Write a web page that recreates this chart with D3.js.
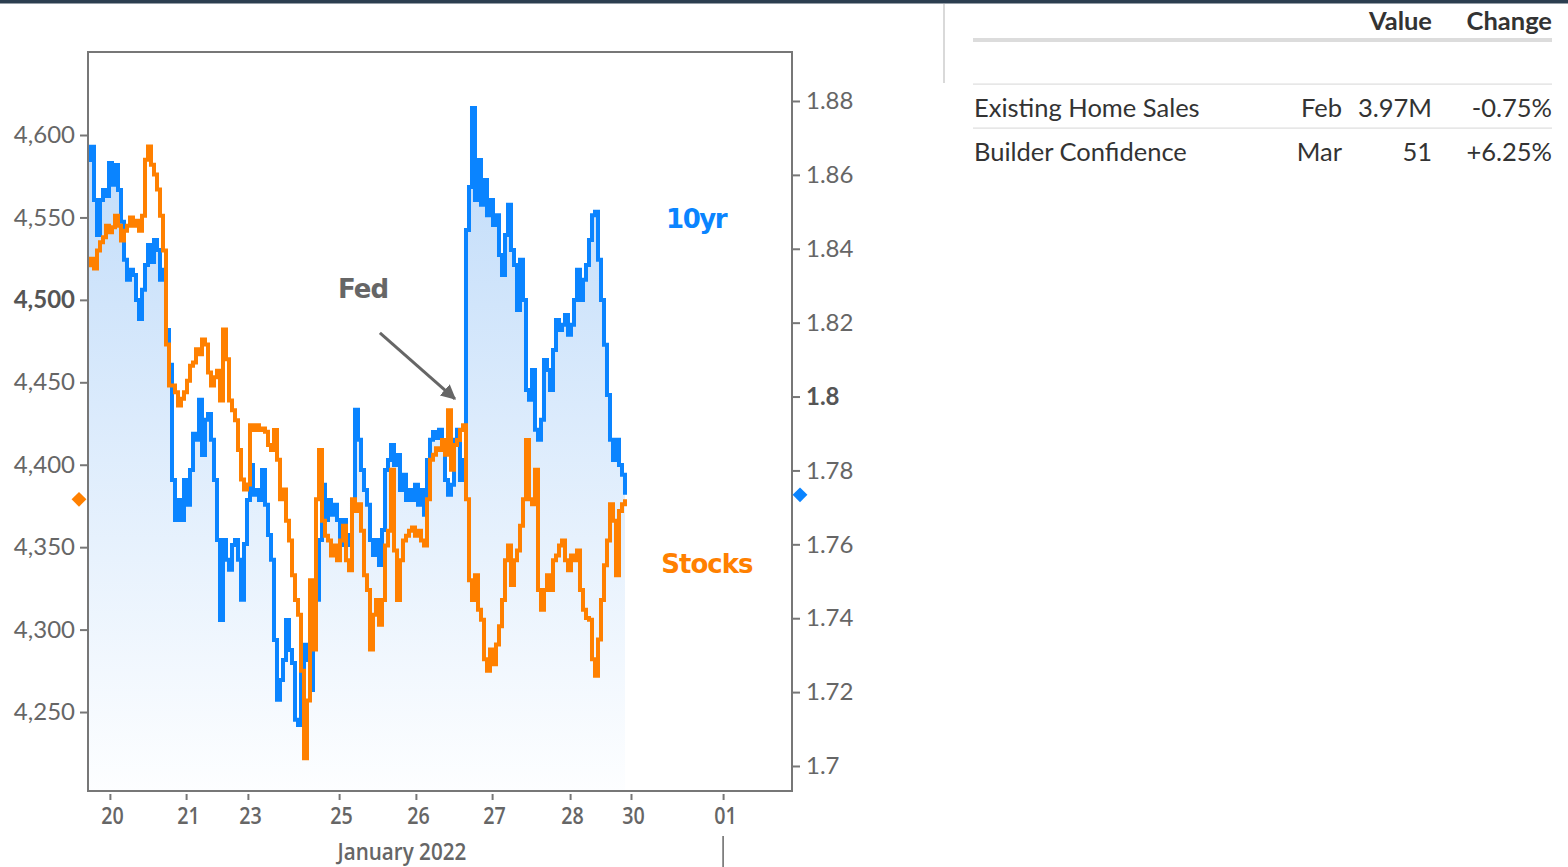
<!DOCTYPE html>
<html>
<head>
<meta charset="utf-8">
<script src="https://cdn.jsdelivr.net/npm/d3@7"></script>
<style>
  html, body { margin: 0; padding: 0; background: #fff; }
  svg { display: block; }
</style>
</head>
<body>
<svg id="chart" width="1568" height="867"></svg>
<script>
// ---------------- DATA ----------------
// Samples evenly spaced in (trading) session time; index = sample number
const stocks = [4521,4525,4519,4530,4535,4538,4545,4541,4544,4551,4545,4536,4542,4545,4550,4545,4548,4542,4551,4585,
4593,4582,4576,4567,4551,4530,4473,4448,4448,4444,4436,4440,4444,4451,4460,4462,4470,4467,4476,4473,
4456,4448,4453,4457,4439,4482,4464,4439,4433,4427,4409,4391,4385,4388,4424,4421,4424,4421,4422,4420,
4412,4409,4421,4403,4379,4385,4366,4354,4333,4318,4309,4275,4222,4257,4330,4288,4379,4409,4366,4357,
4354,4345,4351,4342,4354,4363,4342,4336,4379,4372,4376,4360,4333,4324,4288,4309,4318,4303,4318,4351,
4360,4397,4348,4318,4342,4354,4357,4360,4362,4357,4360,4354,4351,4379,4403,4406,4410,4409,4415,4406,
4433,4397,4412,4415,4421,4424,4379,4330,4318,4333,4312,4306,4282,4275,4288,4279,4291,4302,4318,4342,
4351,4327,4342,4348,4363,4379,4415,4379,4376,4397,4324,4312,4324,4333,4324,4342,4345,4351,4354,4342,
4336,4345,4342,4348,4324,4312,4307,4306,4282,4272,4294,4318,4339,4354,4376,4366,4333,4372,4376,4379];

const tenYr = [1.8640,1.8676,1.8532,1.8437,1.8532,1.8559,1.8543,1.8632,1.8573,1.8627,1.8559,1.8473,1.8370,1.8316,1.8343,1.8329,1.8261,1.8210,1.8289,1.8356,
1.8410,1.8364,1.8424,1.8397,1.8316,1.8343,1.8180,1.8086,1.7774,1.7666,1.7720,1.7666,1.7774,1.7707,1.7801,1.7899,1.7883,1.7991,1.7842,1.7937,
1.7953,1.7883,1.7774,1.7612,1.7395,1.7612,1.7558,1.7531,1.7598,1.7612,1.7558,1.7450,1.7601,1.7720,1.7815,1.7734,1.7747,1.7720,1.7801,1.7707,
1.7625,1.7558,1.7341,1.7179,1.7233,1.7287,1.7395,1.7314,1.7279,1.7125,1.7111,1.7260,1.7328,1.7287,1.7206,1.7368,1.7450,1.7612,1.7761,1.7666,
1.7720,1.7680,1.7707,1.7666,1.7598,1.7666,1.7598,1.7625,1.7720,1.7964,1.7883,1.7801,1.7747,1.7707,1.7612,1.7571,1.7612,1.7544,1.7639,1.7801,
1.7828,1.7869,1.7815,1.7842,1.7747,1.7788,1.7720,1.7747,1.7720,1.7761,1.7707,1.7747,1.7680,1.7828,1.7883,1.7904,1.7888,1.7910,1.7855,1.7774,
1.7734,1.7761,1.7883,1.7910,1.7774,1.7828,1.8451,1.8567,1.8781,1.8532,1.8640,1.8519,1.8586,1.8491,1.8532,1.8464,1.8491,1.8383,1.8329,1.8437,
1.8519,1.8397,1.8356,1.8234,1.8370,1.8261,1.8018,1.7991,1.8072,1.7910,1.7883,1.7937,1.8099,1.8072,1.8018,1.8126,1.8207,1.8180,1.8194,1.8221,
1.8167,1.8194,1.8261,1.8343,1.8261,1.8316,1.8356,1.8424,1.8491,1.8500,1.8370,1.8261,1.8140,1.8004,1.7883,1.7828,1.7883,1.7815,1.7788,1.7734];

const xTickPos    = [7.3, 32.7, 53.3, 83.7, 109.3, 134.7, 160.7, 181, 211.7];
const xTickLabels = ["20","21","23","25","26","27","28","30","01"];
const xTitle = "January 2022";
const leftTicks  = [4250, 4300, 4350, 4400, 4450, 4500, 4550, 4600];
const rightTicks = [1.70, 1.72, 1.74, 1.76, 1.78, 1.80, 1.82, 1.84, 1.86, 1.88];

const tableHeader = ["Value", "Change"];
const tableNames   = ["Existing Home Sales", "Builder Confidence"];
const tablePeriods = ["Feb", "Mar"];
const tableValues  = ["3.97M", "51"];
const tableChanges = ["-0.75%", "+6.25%"];

// ---------------- LAYOUT ----------------
const W = 1568, H = 867;
const P = { l: 88, r: 792, t: 52, b: 791 };
const BLUE = "#0a84ff", ORANGE = "#ff8000", AXIS = "#777";

const svg = d3.select("#chart");

const x  = d3.scaleLinear().domain([0, 234.67]).range([P.l, P.r]);
const yL = d3.scaleLinear().domain([4202.1, 4650.35]).range([P.b, P.t]);
const yR = d3.scaleLinear().domain([1.69323, 1.89326]).range([P.b, P.t]);

// top bar
svg.append("rect").attr("x", 0).attr("y", 0).attr("width", W).attr("height", 3.5).attr("fill", "#2c3e50");

const defs = svg.append("defs");
const grad = defs.append("linearGradient").attr("id", "fillGrad")
  .attr("gradientUnits", "userSpaceOnUse").attr("x1", 0).attr("x2", 0).attr("y1", P.t).attr("y2", P.b);
grad.append("stop").attr("offset", 0).attr("stop-color", "#bad8f9");
grad.append("stop").attr("offset", 1).attr("stop-color", "#fdfeff");
defs.append("clipPath").attr("id", "plotClip").append("rect")
  .attr("x", P.l).attr("y", P.t).attr("width", P.r - P.l).attr("height", P.b - P.t);

const plot = svg.append("g").attr("clip-path", "url(#plotClip)");

const area = d3.area().x((d, i) => x(i)).y0(P.b).y1(d => yR(d)).curve(d3.curveStepAfter);
plot.append("path").datum(tenYr).attr("d", area).attr("fill", "url(#fillGrad)");

const lineR = d3.line().x((d, i) => x(i)).y(d => yR(d)).curve(d3.curveStepAfter);
const lineL = d3.line().x((d, i) => x(i)).y(d => yL(d)).curve(d3.curveStepAfter);
plot.append("path").datum(tenYr).attr("d", lineR).attr("fill", "none")
  .attr("stroke", BLUE).attr("stroke-width", 4).attr("stroke-linejoin", "miter");
plot.append("path").datum(stocks).attr("d", lineL).attr("fill", "none")
  .attr("stroke", ORANGE).attr("stroke-width", 4).attr("stroke-linejoin", "miter");

// frame
svg.append("rect").attr("x", P.l).attr("y", P.t).attr("width", P.r - P.l).attr("height", P.b - P.t)
  .attr("fill", "none").attr("stroke", AXIS).attr("stroke-width", 2);

// axes
const tickFont = "Lato, 'DejaVu Sans', sans-serif";
const gL = svg.append("g").attr("transform", `translate(${P.l},0)`)
  .call(d3.axisLeft(yL).tickValues(leftTicks).tickSize(8).tickPadding(5).tickFormat(d3.format(",")));
const gR = svg.append("g").attr("transform", `translate(${P.r},0)`)
  .call(d3.axisRight(yR).tickValues(rightTicks).tickSize(8).tickPadding(6).tickFormat(d => String(+d.toFixed(2))));
[gL, gR].forEach(g => {
  g.select(".domain").remove();
  g.selectAll(".tick line").attr("stroke", AXIS).attr("stroke-width", 2);
  g.selectAll(".tick text").attr("font-family", tickFont).attr("font-size", 24).attr("fill", "#666");
});
gL.selectAll(".tick text").filter(d => d === 4500).attr("font-weight", "bold").attr("fill", "#555");
gR.selectAll(".tick text").filter(d => Math.abs(d - 1.8) < 1e-9).attr("font-weight", "bold").attr("fill", "#555");

const xFont = "'Open Sans', Lato, sans-serif";
const gX = svg.append("g").attr("transform", `translate(0,${P.b + 3})`)
  .call(d3.axisBottom(x).tickValues(xTickPos).tickSize(6).tickPadding(7).tickFormat((d, i) => xTickLabels[i]));
gX.select(".domain").remove();
gX.selectAll(".tick line").attr("stroke", AXIS).attr("stroke-width", 2);
gX.selectAll(".tick text").attr("font-family", xFont).attr("font-weight", 600)
  .attr("font-size", 24).attr("fill", "#666").attr("transform", "translate(2,0) scale(0.82,1)");
svg.append("g").attr("transform", `translate(${x(xTickPos[4]) - 14},860) scale(0.86,1)`)
  .append("text").attr("text-anchor", "middle")
  .attr("font-family", xFont).attr("font-weight", 600)
  .attr("font-size", 24).attr("fill", "#666").text(xTitle);
svg.append("line").attr("x1", x(xTickPos[8])).attr("x2", x(xTickPos[8])).attr("y1", 836).attr("y2", H)
  .attr("stroke", "#666").attr("stroke-width", 1.5);

// last-value diamonds
const sq = d3.symbol().type(d3.symbolSquare).size(110)();
svg.append("path").attr("d", sq)
  .attr("transform", `translate(${P.l - 9},${yL(stocks[stocks.length - 1])}) rotate(45)`).attr("fill", ORANGE);
svg.append("path").attr("d", sq)
  .attr("transform", `translate(${P.r + 8},${yR(tenYr[tenYr.length - 1])}) rotate(45)`).attr("fill", BLUE);

// labels
const labFont = "'DejaVu Sans', Verdana, sans-serif";
svg.append("text").attr("x", x(202.7)).attr("y", yR(1.8481)).attr("dy", "0.36em").attr("text-anchor", "middle")
  .attr("font-family", labFont).attr("font-weight", "bold").attr("font-size", 26).attr("fill", BLUE)
  .attr("letter-spacing", -1.5).text("10yr");
svg.append("text").attr("x", x(206.3)).attr("y", yL(4340)).attr("dy", "0.36em").attr("text-anchor", "middle")
  .attr("font-family", labFont).attr("font-weight", "bold").attr("font-size", 26).attr("fill", ORANGE)
  .attr("letter-spacing", -1).text("Stocks");
svg.append("text").attr("x", x(91.7)).attr("y", yL(4507)).attr("dy", "0.36em").attr("text-anchor", "middle")
  .attr("font-family", labFont).attr("font-weight", "bold").attr("font-size", 26).attr("fill", "#666")
  .attr("letter-spacing", -1).text("Fed");

defs.append("marker").attr("id", "arrowHead").attr("viewBox", "0 0 10 10").attr("refX", 9).attr("refY", 5)
  .attr("markerWidth", 5).attr("markerHeight", 5).attr("orient", "auto")
  .append("path").attr("d", "M0,0 L10,5 L0,10 Z").attr("fill", "#666");
svg.append("line").attr("x1", x(97.3)).attr("y1", yL(4480)).attr("x2", x(122.3)).attr("y2", yL(4440))
  .attr("stroke", "#666").attr("stroke-width", 3).attr("marker-end", "url(#arrowHead)");

// separator
svg.append("line").attr("x1", 944).attr("x2", 944).attr("y1", 4).attr("y2", 83).attr("stroke", "#ccc").attr("stroke-width", 1.5);

// ---------------- TABLE ----------------
const tFont = "Lato, 'Open Sans', sans-serif";
const T = { l: 973, r: 1552, valR: 1432, perR: 1342 };
const tbl = svg.append("g");
tbl.selectAll("text.hdr").data(tableHeader).join("text")
  .attr("x", (d, i) => i === 0 ? T.valR : T.r).attr("y", 30).attr("text-anchor", "end")
  .attr("font-family", tFont).attr("font-weight", "bold").attr("font-size", 25.5).attr("fill", "#333").text(d => d);
tbl.append("rect").attr("x", T.l).attr("y", 38).attr("width", T.r - T.l).attr("height", 4).attr("fill", "#dcdcdc");
tbl.append("rect").attr("x", T.l).attr("y", 83.5).attr("width", T.r - T.l).attr("height", 1.2).attr("fill", "#ddd");
tbl.append("rect").attr("x", T.l).attr("y", 127.5).attr("width", T.r - T.l).attr("height", 1.2).attr("fill", "#ddd");
tableNames.forEach((name, i) => {
  const yb = 117 + i * 44;
  const row = tbl.append("g").attr("font-family", tFont).attr("font-size", 25.5).attr("fill", "#333");
  row.append("text").attr("x", T.l + 1).attr("y", yb).text(name);
  row.append("text").attr("x", T.perR).attr("y", yb).attr("text-anchor", "end").text(tablePeriods[i]);
  row.append("text").attr("x", T.valR).attr("y", yb).attr("text-anchor", "end").text(tableValues[i]);
  row.append("text").attr("x", T.r).attr("y", yb).attr("text-anchor", "end").text(tableChanges[i]);
});
</script>
</body>
</html>
